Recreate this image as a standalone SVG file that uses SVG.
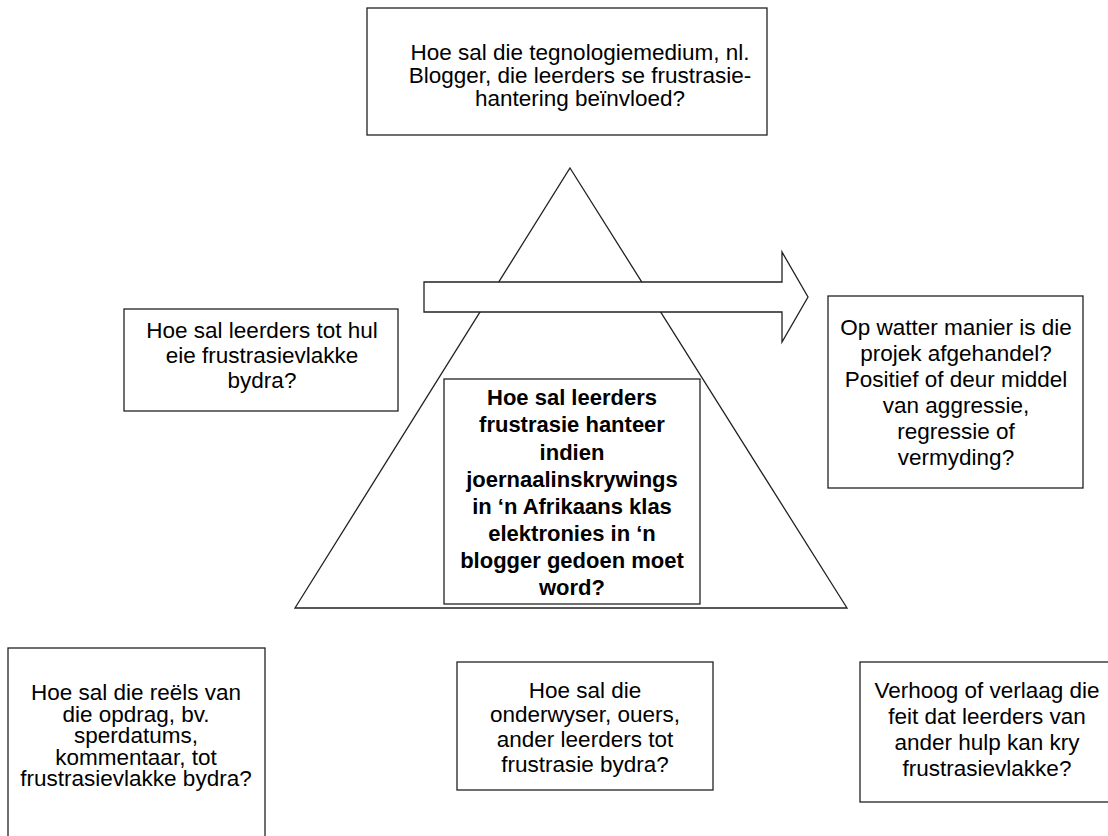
<svg xmlns="http://www.w3.org/2000/svg" width="1108" height="836" viewBox="0 0 1108 836">
<style>
.box{fill:#fff;stroke:#222;stroke-width:1.3}
.shape{fill:#fff;stroke:#222;stroke-width:1.3;stroke-linejoin:miter}
text{font-family:"Liberation Sans",Arial,sans-serif;font-size:22.5px;fill:#000;text-anchor:middle}
.b{font-weight:bold;font-size:22px}
</style>
<rect width="1108" height="836" fill="#fff"/>
<g id="triangle">
<polygon class="shape" points="570,168 847,608 295,608"/>
</g>
<g id="connectors">
<polygon class="shape" points="424,282 782,282 782,252 808,297 782,342 782,312 424,312"/>
</g>
<g id="node-top">
<rect class="box" x="367" y="8" width="400" height="127"/>
<text x="580" y="60">Hoe sal die tegnologiemedium, nl.</text>
<text x="580" y="83">Blogger, die leerders se frustrasie-</text>
<text x="580" y="106">hantering beïnvloed?</text>
</g>
<g id="node-left">
<rect class="box" x="124" y="309" width="274" height="102"/>
<text x="262" y="338">Hoe sal leerders tot hul</text>
<text x="262" y="363">eie frustrasievlakke</text>
<text x="262" y="388">bydra?</text>
</g>
<g id="node-right">
<rect class="box" x="828" y="296" width="255" height="192"/>
<text x="956" y="335">Op watter manier is die</text>
<text x="956" y="361">projek afgehandel?</text>
<text x="956" y="387">Positief of deur middel</text>
<text x="956" y="413">van aggressie,</text>
<text x="956" y="439">regressie of</text>
<text x="956" y="465">vermyding?</text>
</g>
<g id="node-center">
<rect class="box" x="444" y="379" width="256" height="225"/>
<text class="b" x="572" y="405">Hoe sal leerders</text>
<text class="b" x="572" y="432">frustrasie hanteer</text>
<text class="b" x="572" y="460">indien</text>
<text class="b" x="572" y="487">joernaalinskrywings</text>
<text class="b" x="572" y="514">in ‘n Afrikaans klas</text>
<text class="b" x="572" y="541">elektronies in ‘n</text>
<text class="b" x="572" y="568">blogger gedoen moet</text>
<text class="b" x="572" y="595">word?</text>
</g>
<g id="node-bottom-left">
<rect class="box" x="8" y="648" width="257" height="200"/>
<text x="136" y="700">Hoe sal die reëls van</text>
<text x="136" y="721.5">die opdrag, bv.</text>
<text x="136" y="743">sperdatums,</text>
<text x="136" y="764.5">kommentaar, tot</text>
<text x="136" y="786">frustrasievlakke bydra?</text>
</g>
<g id="node-bottom-middle">
<rect class="box" x="457" y="662" width="256" height="128"/>
<text x="585" y="698">Hoe sal die</text>
<text x="585" y="722">onderwyser, ouers,</text>
<text x="585" y="747">ander leerders tot</text>
<text x="585" y="772">frustrasie bydra?</text>
</g>
<g id="node-bottom-right">
<rect class="box" x="860" y="662" width="256" height="140"/>
<text x="987" y="698">Verhoog of verlaag die</text>
<text x="987" y="724">feit dat leerders van</text>
<text x="987" y="750">ander hulp kan kry</text>
<text x="987" y="776">frustrasievlakke?</text>
</g>
</svg>
